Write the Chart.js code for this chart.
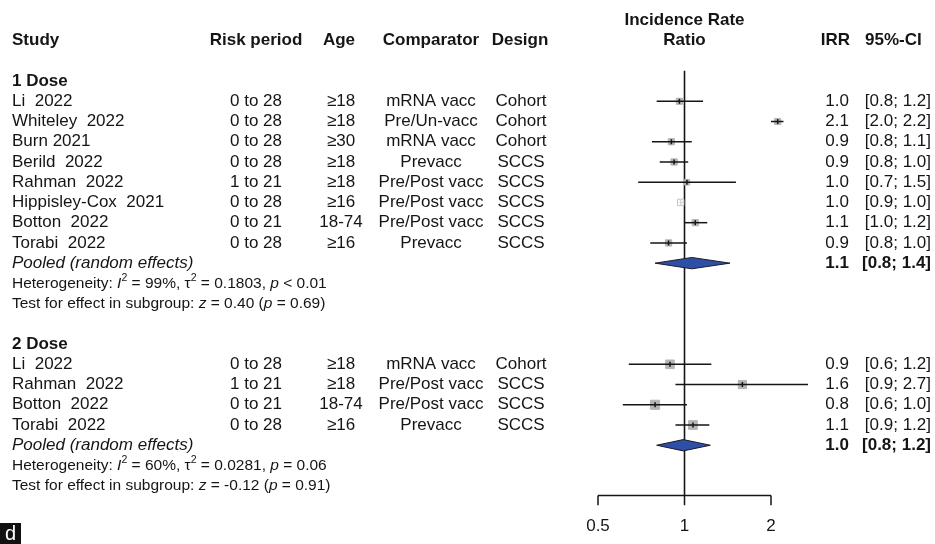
<!DOCTYPE html>
<html>
<head>
<meta charset="utf-8">
<script src="https://cdn.jsdelivr.net/npm/chart.js@4.4.1/dist/chart.umd.min.js"></script>
<style>
  html, body { margin: 0; padding: 0; background: #fff; }
  #wrap { width: 935px; height: 544px; position: relative; }
</style>
</head>
<body>
<div id="wrap"><canvas id="forest"></canvas></div>
<script>
// study table
const doseGroups = ['1 Dose', '2 Dose'];
const studyGroup = [0, 0, 0, 0, 0, 0, 0, 0, 1, 1, 1, 1];
const studyNames = ['Li  2022', 'Whiteley  2022', 'Burn 2021', 'Berild  2022', 'Rahman  2022', 'Hippisley-Cox  2021', 'Botton  2022', 'Torabi  2022',
                    'Li  2022', 'Rahman  2022', 'Botton  2022', 'Torabi  2022'];
const riskPeriods = ['0 to 28', '0 to 28', '0 to 28', '0 to 28', '1 to 21', '0 to 28', '0 to 21', '0 to 28',
                     '0 to 28', '1 to 21', '0 to 21', '0 to 28'];
const ages = ['≥18', '≥18', '≥30', '≥18', '≥18', '≥16', '18-74', '≥16',
              '≥18', '≥18', '18-74', '≥16'];
const comparators = ['mRNA vacc', 'Pre/Un-vacc', 'mRNA vacc', 'Prevacc', 'Pre/Post vacc', 'Pre/Post vacc', 'Pre/Post vacc', 'Prevacc',
                     'mRNA vacc', 'Pre/Post vacc', 'Pre/Post vacc', 'Prevacc'];
const designs = ['Cohort', 'Cohort', 'Cohort', 'SCCS', 'SCCS', 'SCCS', 'SCCS', 'SCCS',
                 'Cohort', 'SCCS', 'SCCS', 'SCCS'];

// estimates
const irr     = [0.96, 2.11, 0.90, 0.92, 1.02, 0.97, 1.09, 0.88, 0.89, 1.59, 0.79, 1.07];
const ciLower = [0.80, 2.00, 0.77, 0.82, 0.69, 0.96, 1.00, 0.76, 0.64, 0.93, 0.61, 0.93];
const ciUpper = [1.16, 2.21, 1.06, 1.03, 1.51, 0.99, 1.20, 1.02, 1.24, 2.69, 1.02, 1.22];
const weights = [12.5, 12.0, 12.5, 12.8, 10.0, 13.2, 12.8, 12.7, 24, 22, 27, 25];
const irrLabels = ['1.0', '2.1', '0.9', '0.9', '1.0', '1.0', '1.1', '0.9', '0.9', '1.6', '0.8', '1.1'];
const ciLabels = ['[0.8; 1.2]', '[2.0; 2.2]', '[0.8; 1.1]', '[0.8; 1.0]', '[0.7; 1.5]', '[0.9; 1.0]', '[1.0; 1.2]', '[0.8; 1.0]',
                  '[0.6; 1.2]', '[0.9; 2.7]', '[0.6; 1.0]', '[0.9; 1.2]'];

// pooled (random effects) per dose group
const pooledIrr = [1.06, 0.99];
const pooledLower = [0.79, 0.80];
const pooledUpper = [1.44, 1.23];
const pooledIrrLabels = ['1.1', '1.0'];
const pooledCiLabels = ['[0.8; 1.4]', '[0.8; 1.2]'];
const hetI2 = ['99%', '60%'];
const hetTau2 = ['0.1803', '0.0281'];
const hetP = ['< 0.01', '= 0.06'];
const testZ = ['0.40', '-0.12'];
const testP = ['0.69', '0.91'];

const tickValues = [0.5, 1, 2];
const tickLabels = ['0.5', '1', '2'];

// row layout: header rows 0-1, then each group
const headerRows = [];
const studyRows = [];
const pooledRows = [];
const hetRows = [];
const testRows = [];
let row = 3;
doseGroups.forEach((g, gi) => {
    headerRows.push(row++);
    studyGroup.forEach((sg) => { if (sg === gi) studyRows.push(row++); });
    pooledRows.push(row++);
    hetRows.push(row++);
    testRows.push(row++);
    row++;
});
const AXIS_ROW = 23.48;
const TICK_LEN = 0.48;
const TICK_LABEL_ROW = 25.03;
const REF_TOP_ROW = 2.49;

const FONT = '"Liberation Sans", Arial, sans-serif';
const INK = '#151515';
const isTiny = i => ciUpper[i] - ciLower[i] < 0.05;

const datasets = [];

// point estimate ticks (on top)
datasets.push({
    data: irr.map((v, i) => ({ x: v, y: studyRows[i] })),
    pointStyle: 'line', rotation: 90, pointRadius: 2.5,
    borderColor: irr.map((v, i) => (isTiny(i) ? '#d8d8d8' : INK)),
    borderWidth: 1.5, showLine: false, clip: false
});

// confidence intervals
irr.forEach((v, i) => {
    datasets.push({
        data: [{ x: ciLower[i], y: studyRows[i] }, { x: ciUpper[i], y: studyRows[i] }],
        showLine: true, borderColor: isTiny(i) ? '#d8d8d8' : INK, borderWidth: 1.5, pointRadius: 0, clip: false
    });
});

// weight squares
datasets.push({
    data: irr.map((v, i) => ({ x: v, y: studyRows[i] })),
    pointStyle: 'rect',
    pointRadius: weights.map(w => 1.75 * Math.sqrt(w) / Math.SQRT2),
    backgroundColor: irr.map((v, i) => (isTiny(i) ? '#ffffff' : '#b5b5b5')),
    borderColor: irr.map((v, i) => (isTiny(i) ? '#c4c4c4' : '#b5b5b5')),
    borderWidth: 1, showLine: false, clip: false
});

// pooled diamonds
pooledIrr.forEach((v, g) => {
    const r = pooledRows[g];
    datasets.push({
        data: [
            { x: pooledLower[g], y: r },
            { x: v, y: r - 0.28 },
            { x: pooledUpper[g], y: r },
            { x: v, y: r + 0.28 },
            { x: pooledLower[g], y: r }
        ],
        showLine: true, fill: 'shape', tension: 0,
        backgroundColor: '#2d4fa5', borderColor: '#1b1b2b', borderWidth: 1,
        pointRadius: 0, clip: false
    });
});

// reference line at IRR = 1
datasets.push({
    data: [{ x: 1, y: REF_TOP_ROW }, { x: 1, y: AXIS_ROW }],
    showLine: true, borderColor: INK, borderWidth: 1.6, pointRadius: 0, clip: false
});

// x axis bracket
datasets.push({
    data: [{ x: tickValues[0], y: AXIS_ROW }, { x: tickValues[tickValues.length - 1], y: AXIS_ROW }],
    showLine: true, borderColor: INK, borderWidth: 1.5, pointRadius: 0, clip: false
});
tickValues.forEach(t => {
    datasets.push({
        data: [{ x: t, y: AXIS_ROW }, { x: t, y: AXIS_ROW + TICK_LEN }],
        showLine: true, borderColor: INK, borderWidth: 1.5, pointRadius: 0, clip: false
    });
});

function drawRuns(ctx, x, y, runs, size) {
    let cx = x;
    runs.forEach(r => {
        const s = r.sup ? size * 0.68 : size;
        ctx.font = (r.italic ? 'italic ' : '') + s + 'px ' + FONT;
        ctx.fillText(r.t, cx, y + (r.sup ? -size * 0.36 : 0));
        cx += ctx.measureText(r.t).width;
    });
}

const tablePlugin = {
    id: 'forestTable',
    afterDraw(chart) {
        const ctx = chart.ctx;
        const xs = chart.scales.x;
        const ys = chart.scales.y;
        const py = r => ys.getPixelForValue(r);
        const bold = '17px ' + FONT;
        ctx.save();
        ctx.fillStyle = INK;
        ctx.textBaseline = 'middle';

        // column headers
        ctx.font = 'bold ' + bold;
        ctx.textAlign = 'left';
        ctx.fillText('Study', 12, py(1));
        ctx.textAlign = 'center';
        ctx.fillText('Risk period', 256, py(1));
        ctx.fillText('Age', 339, py(1));
        ctx.fillText('Comparator', 431, py(1));
        ctx.fillText('Design', 520, py(1));
        ctx.fillText('Incidence Rate', xs.getPixelForValue(1), py(0));
        ctx.fillText('Ratio', xs.getPixelForValue(1), py(1));
        ctx.textAlign = 'right';
        ctx.fillText('IRR', 850, py(1));
        ctx.textAlign = 'left';
        ctx.fillText('95%-CI', 865, py(1));

        // group headers
        doseGroups.forEach((g, gi) => {
            ctx.font = 'bold ' + bold;
            ctx.textAlign = 'left';
            ctx.fillText(g, 12, py(headerRows[gi]));
        });

        // study rows
        ctx.font = '17px ' + FONT;
        studyNames.forEach((name, i) => {
            const y = py(studyRows[i]);
            ctx.textAlign = 'left';
            ctx.fillText(name, 12, y);
            ctx.textAlign = 'center';
            ctx.fillText(riskPeriods[i], 256, y);
            ctx.fillText(ages[i], 341, y);
            ctx.fillText(comparators[i], 431, y);
            ctx.fillText(designs[i], 521, y);
            ctx.textAlign = 'right';
            ctx.fillText(irrLabels[i], 849, y);
            ctx.fillText(ciLabels[i], 931, y);
        });

        // pooled + heterogeneity lines
        doseGroups.forEach((g, gi) => {
            const y = py(pooledRows[gi]);
            ctx.textAlign = 'left';
            ctx.font = 'italic 17px ' + FONT;
            ctx.fillText('Pooled (random effects)', 12, y);
            ctx.font = 'bold 17px ' + FONT;
            ctx.textAlign = 'right';
            ctx.fillText(pooledIrrLabels[gi], 849, y);
            ctx.fillText(pooledCiLabels[gi], 931, y);

            ctx.textAlign = 'left';
            drawRuns(ctx, 12, py(hetRows[gi]), [
                { t: 'Heterogeneity: ' }, { t: 'I', italic: true }, { t: '2', sup: true },
                { t: ' = ' + hetI2[gi] + ', τ' }, { t: '2', sup: true },
                { t: ' = ' + hetTau2[gi] + ', ' }, { t: 'p', italic: true }, { t: ' ' + hetP[gi] }
            ], 15.5);
            drawRuns(ctx, 12, py(testRows[gi]), [
                { t: 'Test for effect in subgroup: ' }, { t: 'z', italic: true },
                { t: ' = ' + testZ[gi] + ' (' }, { t: 'p', italic: true }, { t: ' = ' + testP[gi] + ')' }
            ], 15.5);
        });

        // tick labels
        ctx.font = '17px ' + FONT;
        ctx.textAlign = 'center';
        tickValues.forEach((t, i) => {
            ctx.fillText(tickLabels[i], xs.getPixelForValue(t), py(TICK_LABEL_ROW));
        });

        // panel letter
        ctx.fillStyle = '#111';
        ctx.fillRect(0, 523, 21, 21);
        ctx.fillStyle = '#fff';
        ctx.font = '20px ' + FONT;
        ctx.textAlign = 'center';
        ctx.fillText('d', 10.5, 534);
        ctx.restore();
    }
};

new Chart(document.getElementById('forest'), {
    type: 'scatter',
    data: { datasets: datasets },
    options: {
        responsive: true,
        maintainAspectRatio: false,
        animation: false,
        layout: { padding: { left: 598, right: 122, top: 0, bottom: 0 } },
        plugins: { legend: { display: false }, tooltip: { enabled: false } },
        scales: {
            // range reaches past 2 so that Whiteley's estimate is inside the plot area
            x: { type: 'logarithmic', min: 0.5, max: 2.8, display: false },
            y: { type: 'linear', reverse: true, min: -0.639, max: 25.514, display: false }
        }
    },
    plugins: [tablePlugin]
});
</script>
</body>
</html>
